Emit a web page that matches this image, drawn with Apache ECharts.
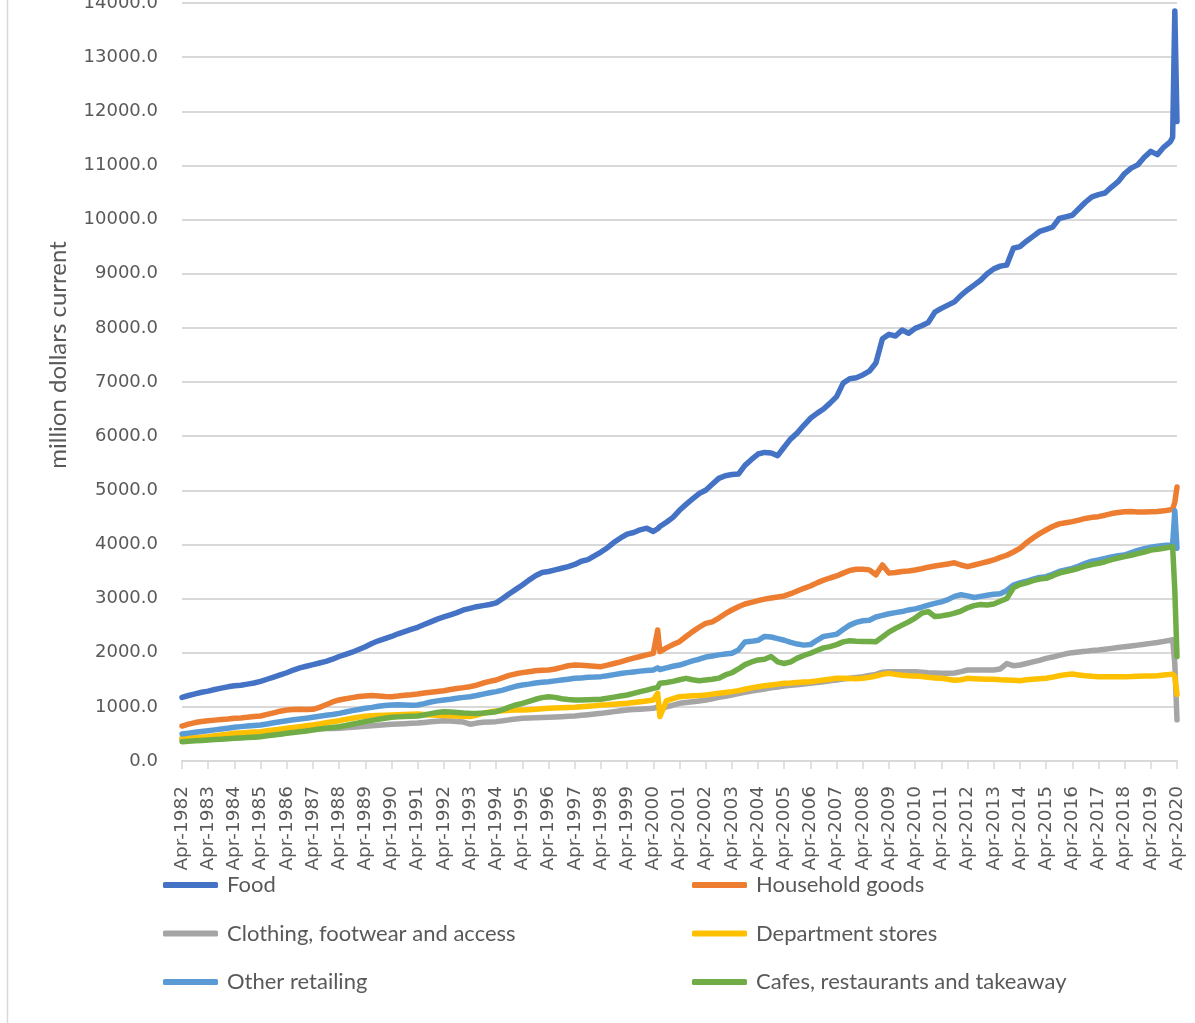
<!DOCTYPE html>
<html>
<head>
<meta charset="utf-8">
<title>Retail turnover by industry</title>
<script src="https://cdn.jsdelivr.net/npm/echarts/dist/echarts.min.js"></script>
<style>
  html, body { margin: 0; padding: 0; background: #ffffff; }
  #chart { width: 1195px; height: 1023px; }
</style>
</head>
<body>
<div id="chart"></div>
<script>
// Monthly category axis, Apr-1982 .. Apr-2020
const MONTH_NAMES = ['Jan','Feb','Mar','Apr','May','Jun','Jul','Aug','Sep','Oct','Nov','Dec'];
const months = [];
for (let y = 1982, m = 3; y < 2020 || (y === 2020 && m <= 3); ) {
  months.push(MONTH_NAMES[m] + '-' + y);
  m++;
  if (m === 12) { m = 0; y++; }
}

// Months at which the series are sampled: quarterly (Apr, Jul, Oct, Jan),
// plus Jun-2000 and the last months of the series
const sampleMonths = [];
for (let y = 1982; y <= 2019; y++) {
  sampleMonths.push('Apr-' + y);
  if (y === 2000) sampleMonths.push('Jun-2000');
  sampleMonths.push('Jul-' + y, 'Oct-' + y, 'Jan-' + (y + 1));
}
sampleMonths.push('Feb-2020', 'Mar-2020', 'Apr-2020');

const seriesNames = [
  'Food',
  'Household goods',
  'Clothing, footwear and access',
  'Department stores',
  'Other retailing',
  'Cafes, restaurants and takeaway'
];

const yAxisTitle = 'million dollars current';

// Turnover, $ million (rows: Apr, Jul, Oct, Jan of each year)
const food = [
  1175, 1210, 1240, 1270,
  1290, 1320, 1345, 1370,
  1390, 1400, 1420, 1440,
  1470, 1510, 1550, 1590,
  1630, 1680, 1720, 1750,
  1780, 1810, 1840, 1880,
  1930, 1970, 2010, 2060,
  2110, 2170, 2220, 2260,
  2300, 2350, 2390, 2430,
  2470, 2520, 2570, 2620,
  2660, 2700, 2740, 2790,
  2820, 2850, 2870, 2890,
  2920, 3000, 3090, 3170,
  3250, 3340, 3420, 3480,
  3500, 3530, 3560, 3590,
  3630, 3690, 3720, 3790,
  3860, 3940, 4040, 4120,
  4190, 4220, 4270, 4300,
  4240, 4290, 4330, 4410, 4500,
  4630, 4740, 4840, 4940,
  5000, 5110, 5220, 5270,
  5290, 5300, 5460, 5570,
  5670, 5700, 5690, 5640,
  5800, 5950, 6060, 6200,
  6330, 6420, 6500, 6610,
  6730, 6980, 7060, 7080,
  7130, 7200, 7350, 7800,
  7880, 7850, 7960, 7900,
  7990, 8040, 8100, 8290,
  8360, 8420, 8480, 8600,
  8700, 8790, 8880, 9000,
  9090, 9140, 9160, 9470,
  9500, 9600, 9690, 9780,
  9820, 9860, 10020, 10050,
  10080, 10200, 10320, 10420,
  10460, 10490, 10600, 10700,
  10850, 10950, 11010, 11150,
  11260, 11200, 11340, 11440,
  11520, 13850, 11810
];

const householdGoods = [
  646, 680, 710, 730,
  745, 755, 765, 775,
  788, 795, 810, 820,
  831, 860, 890, 920,
  942, 950, 955, 950,
  954, 990, 1040, 1090,
  1127, 1150, 1170, 1190,
  1200, 1210, 1200, 1190,
  1188, 1200, 1215, 1225,
  1238, 1255, 1270, 1285,
  1299, 1320, 1340, 1355,
  1373, 1400, 1440, 1470,
  1496, 1540, 1580, 1610,
  1632, 1650, 1665, 1675,
  1681, 1700, 1730, 1760,
  1773, 1770, 1760, 1750,
  1742, 1770, 1800, 1830,
  1866, 1900, 1930, 1960,
  1989, 2420, 2020, 2090, 2150,
  2204, 2300, 2390, 2470,
  2543, 2570, 2640, 2720,
  2789, 2850, 2900, 2930,
  2962, 2990, 3010, 3030,
  3048, 3090, 3140, 3190,
  3232, 3290, 3340, 3380,
  3417, 3470, 3520, 3540,
  3540, 3530, 3440, 3620,
  3470, 3480, 3500, 3510,
  3528, 3550, 3580, 3600,
  3620, 3640, 3660, 3620,
  3590, 3620, 3650, 3680,
  3713, 3760, 3800, 3860,
  3928, 4030, 4120, 4200,
  4267, 4330, 4380, 4400,
  4421, 4450, 4480, 4500,
  4513, 4540, 4570, 4590,
  4605, 4610, 4600, 4600,
  4605, 4610, 4620, 4640,
  4650, 4780, 5060
];

const clothing = [
  410, 415, 420, 425,
  430, 438, 446, 454,
  460, 465, 470, 475,
  480, 500, 520, 540,
  555, 565, 575, 585,
  590, 595, 598, 600,
  605, 615, 625, 632,
  640, 650, 660, 670,
  680, 685, 690, 695,
  700, 712, 724, 735,
  745, 740, 730, 720,
  680, 700, 715, 722,
  727, 742, 760, 775,
  788, 793, 798, 803,
  807, 812, 818, 825,
  831, 843, 855, 868,
  880, 895, 912, 928,
  942, 950, 958, 965,
  973, 1000, 960, 1000, 1030,
  1065, 1080, 1095, 1110,
  1127, 1150, 1175, 1195,
  1219, 1245, 1268, 1290,
  1311, 1330, 1350, 1368,
  1385, 1398, 1410, 1422,
  1435, 1450, 1465, 1480,
  1496, 1512, 1528, 1543,
  1558, 1580, 1600, 1640,
  1650, 1650, 1650, 1650,
  1650, 1640, 1630, 1625,
  1619, 1620, 1625, 1650,
  1681, 1680, 1680, 1680,
  1681, 1700, 1800, 1760,
  1773, 1800, 1830, 1860,
  1896, 1920, 1950, 1980,
  2001, 2015, 2025, 2040,
  2050, 2065, 2080, 2095,
  2112, 2125, 2140, 2155,
  2173, 2190, 2210, 2230,
  2240, 1800, 760
];

const departmentStores = [
  419, 425, 432, 440,
  449, 465, 480, 495,
  511, 518, 526, 534,
  542, 557, 573, 588,
  603, 618, 634, 650,
  665, 685, 705, 725,
  745, 768, 790, 810,
  825, 835, 840, 845,
  850, 855, 860, 865,
  870, 860, 850, 845,
  840, 835, 830, 825,
  820, 850, 880, 905,
  925, 930, 935, 940,
  942, 948, 955, 965,
  973, 978, 982, 987,
  991, 1000, 1010, 1020,
  1034, 1040, 1050, 1058,
  1065, 1080, 1095, 1110,
  1127, 1250, 820, 1110, 1150,
  1188, 1195, 1205, 1210,
  1219, 1235, 1250, 1265,
  1281, 1300, 1325, 1350,
  1373, 1390, 1405, 1420,
  1435, 1440, 1450, 1458,
  1465, 1480, 1495, 1510,
  1527, 1530, 1525, 1520,
  1527, 1545, 1570, 1600,
  1619, 1600, 1585, 1575,
  1570, 1560, 1545, 1535,
  1527, 1510, 1490, 1500,
  1527, 1520, 1515, 1510,
  1508, 1500, 1495, 1490,
  1484, 1500, 1510, 1520,
  1527, 1550, 1575, 1595,
  1607, 1590, 1575, 1565,
  1558, 1555, 1555, 1556,
  1558, 1560, 1565, 1568,
  1570, 1575, 1590, 1600,
  1600, 1560, 1230
];

const otherRetailing = [
  499, 515, 530, 545,
  560, 575, 590, 605,
  622, 635, 645, 655,
  665, 685, 705, 725,
  745, 760, 775, 790,
  807, 825, 845, 860,
  880, 905, 930, 950,
  973, 990, 1010, 1025,
  1034, 1040, 1035, 1030,
  1034, 1060, 1090, 1110,
  1127, 1140, 1160, 1175,
  1188, 1210, 1235, 1260,
  1281, 1310, 1345, 1380,
  1404, 1420, 1440, 1455,
  1465, 1480, 1495, 1510,
  1527, 1535, 1545, 1550,
  1558, 1575, 1595, 1615,
  1632, 1645, 1660, 1670,
  1681, 1720, 1690, 1720, 1750,
  1773, 1810, 1850, 1880,
  1920, 1940, 1960, 1975,
  1990, 2050, 2200, 2210,
  2230, 2300, 2290, 2260,
  2230, 2190, 2160, 2140,
  2150, 2230, 2300, 2320,
  2340, 2430, 2510, 2560,
  2590, 2600, 2660, 2690,
  2720, 2740, 2760, 2790,
  2810, 2840, 2880, 2910,
  2940, 2980, 3040, 3070,
  3050, 3020, 3040, 3060,
  3080, 3090, 3150, 3250,
  3290, 3320, 3360, 3390,
  3405, 3450, 3500, 3530,
  3559, 3600, 3650, 3690,
  3713, 3740, 3770, 3790,
  3805, 3850, 3890, 3920,
  3947, 3965, 3980, 3990,
  4000, 4620, 3930
];

const cafes = [
  357, 365, 372, 380,
  388, 395, 402, 410,
  419, 425, 432, 440,
  449, 465, 480, 495,
  511, 525, 540, 555,
  573, 590, 605, 620,
  634, 655, 680, 705,
  727, 750, 770, 790,
  807, 815, 820, 825,
  831, 850, 875, 895,
  911, 905, 895, 885,
  880, 878, 885, 895,
  911, 950, 995, 1035,
  1065, 1100, 1140, 1170,
  1188, 1175, 1150, 1135,
  1127, 1125, 1130, 1135,
  1139, 1160, 1180, 1200,
  1219, 1250, 1280, 1310,
  1342, 1360, 1435, 1450, 1470,
  1500, 1527, 1500, 1484,
  1496, 1510, 1530, 1589,
  1630, 1700, 1780, 1830,
  1866, 1880, 1930, 1830,
  1800, 1830, 1900, 1950,
  1990, 2040, 2090, 2112,
  2150, 2200, 2220, 2210,
  2205, 2205, 2204, 2290,
  2380, 2450, 2510, 2570,
  2640, 2730, 2760, 2670,
  2680, 2700, 2730, 2770,
  2830, 2870, 2890, 2880,
  2900, 2950, 3000, 3200,
  3260, 3290, 3330, 3360,
  3374, 3420, 3470, 3500,
  3528, 3560, 3600, 3630,
  3651, 3680, 3720, 3750,
  3774, 3800, 3830, 3860,
  3897, 3910, 3930, 3950,
  3960, 3150, 1930
];

const seriesValues = [food, householdGoods, clothing, departmentStores, otherRetailing, cafes];
const seriesColors = ['#4472C4', '#ED7D31', '#A5A5A5', '#FFC000', '#5B9BD5', '#70AD47'];

const chart = echarts.init(document.getElementById('chart'), null, { renderer: 'canvas' });

const labelColor = '#595959';
const gridColor = '#D9D9D9';
const textFont = 'Lato, "Open Sans", sans-serif';
const numberFont = '"DejaVu Sans", sans-serif';

const legendCommon = {
  orient: 'vertical',
  top: 868,
  padding: 5,
  itemWidth: 55,
  itemHeight: 6,
  itemGap: 24.5,
  icon: 'roundRect',
  selectedMode: false,
  textStyle: {
    fontFamily: textFont,
    fontSize: 22,
    color: labelColor,
    lineHeight: 24,
    padding: [0, 0, 0, 4]
  }
};

chart.setOption({
  animation: false,
  backgroundColor: '#ffffff',
  color: seriesColors,
  grid: {
    left: 182, right: 18, top: 3, bottom: 262,
    containLabel: false,
    outerBoundsMode: 'none'
  },
  xAxis: {
    type: 'category',
    data: months,
    boundaryGap: false,
    axisLine: { show: true, lineStyle: { color: gridColor, width: 2 } },
    axisTick: { show: true, interval: 11, length: 8, lineStyle: { color: gridColor, width: 1.5 } },
    axisLabel: {
      interval: 11,
      rotate: 90,
      margin: 25,
      fontFamily: numberFont,
      fontSize: 18.5,
      color: labelColor
    },
    splitLine: { show: false }
  },
  yAxis: {
    type: 'value',
    min: 0,
    max: 14000,
    interval: 1000,
    axisLine: { show: false },
    axisTick: { show: false },
    axisLabel: {
      margin: 24,
      fontFamily: numberFont,
      fontSize: 18,
      color: labelColor,
      formatter: v => v.toFixed(1)
    },
    splitLine: { show: true, lineStyle: { color: gridColor, width: 2 } }
  },
  legend: [
    Object.assign({}, legendCommon, {
      left: 158,
      data: [seriesNames[0], seriesNames[2], seriesNames[4]]
    }),
    Object.assign({}, legendCommon, {
      left: 687,
      data: [seriesNames[1], seriesNames[3], seriesNames[5]]
    })
  ],
  graphic: [
    {
      type: 'line',
      shape: { x1: 7.5, y1: 0, x2: 7.5, y2: 1023 },
      style: { stroke: gridColor, lineWidth: 1.5 },
      silent: true
    },
    {
      // vertical axis title
      type: 'text',
      x: 58,
      y: 355,
      rotation: Math.PI / 2,
      silent: true,
      style: {
        text: yAxisTitle,
        fontFamily: textFont,
        fontSize: 24,
        fill: labelColor,
        align: 'center',
        verticalAlign: 'middle'
      }
    }
  ],
  series: seriesNames.map((name, k) => ({
    name: name,
    type: 'line',
    showSymbol: false,
    symbol: 'none',
    data: sampleMonths.map((m, i) => [m, seriesValues[k][i]]),
    lineStyle: { width: 5.5, color: seriesColors[k], cap: 'round', join: 'round' },
    itemStyle: { color: seriesColors[k] },
    emphasis: { disabled: true }
  }))
});
</script>
</body>
</html>
